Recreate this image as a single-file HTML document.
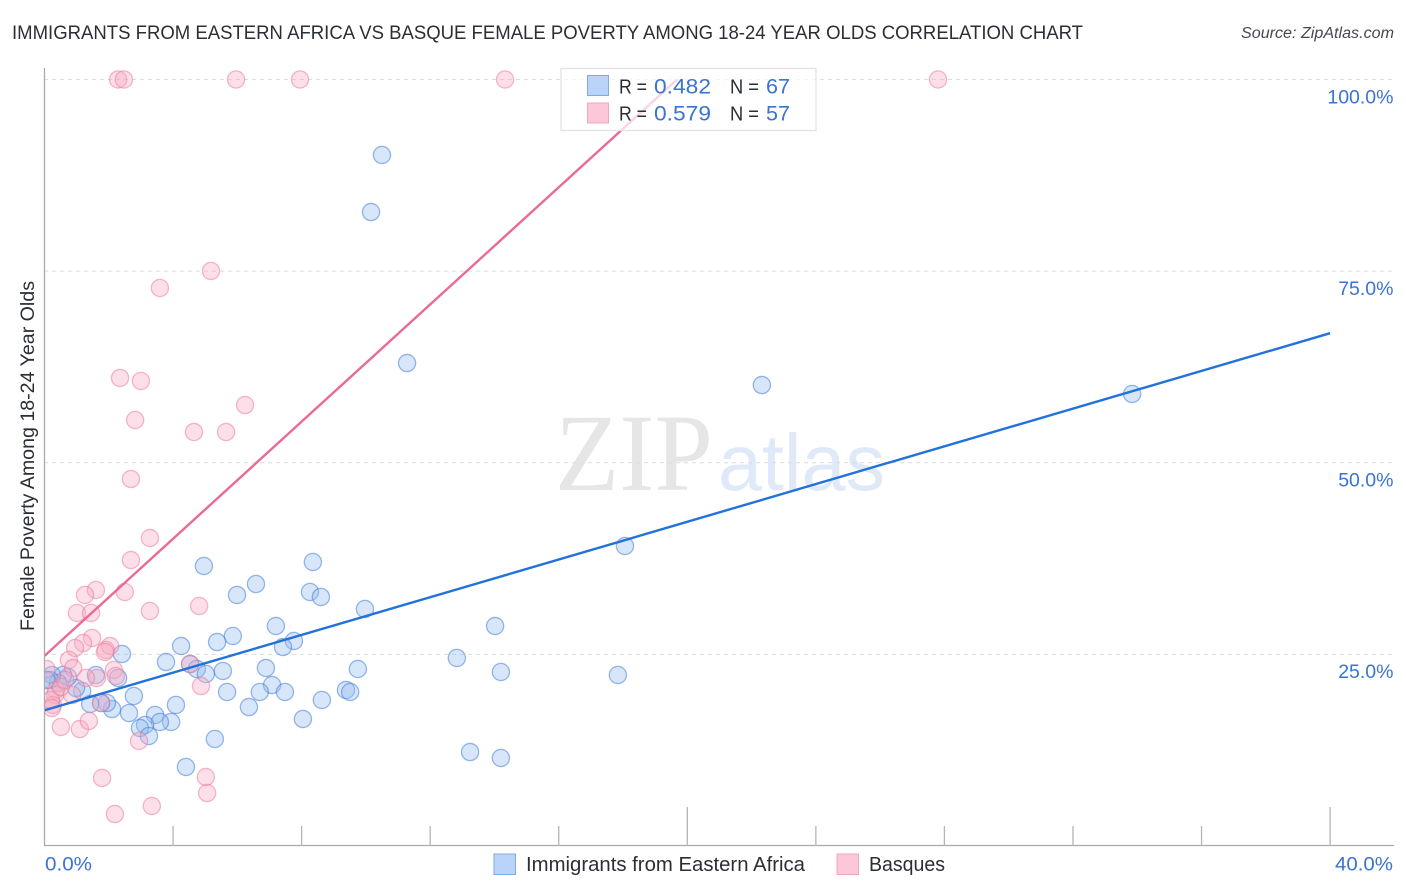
<!DOCTYPE html>
<html lang="en">
<head>
<meta charset="utf-8">
<title>Female Poverty Correlation Chart</title>
<style>
html,body{margin:0;padding:0;background:#fff;}
body{width:1406px;height:892px;overflow:hidden;}
svg{display:block;}
text{font-family:"Liberation Sans",sans-serif;}
</style>
</head>
<body>
<svg id="chart" xmlns="http://www.w3.org/2000/svg" width="1406" height="892" viewBox="0 0 1406 892">
  <defs>
    <clipPath id="plot-clip"><rect x="45" y="60" width="1349" height="786"/></clipPath>
  </defs>
  <rect x="0" y="0" width="1406" height="892" fill="#ffffff"/>
  <text x="12" y="39" font-size="19" fill="#2a2e35" textLength="1071" lengthAdjust="spacingAndGlyphs">IMMIGRANTS FROM EASTERN AFRICA VS BASQUE FEMALE POVERTY AMONG 18-24 YEAR OLDS CORRELATION CHART</text>
  <text x="1394" y="38" font-size="15.5" font-style="italic" fill="#444a52" text-anchor="end" textLength="153" lengthAdjust="spacingAndGlyphs">Source: ZipAtlas.com</text>
  <g>
    <text x="555" y="490" style="font-family:'Liberation Serif',serif" font-size="110" fill="#e6e6e6" textLength="158" lengthAdjust="spacingAndGlyphs">ZIP</text>
    <text x="718" y="490" font-size="80" fill="#dfe9f8" textLength="167" lengthAdjust="spacingAndGlyphs">atlas</text>
  </g>
  <g id="grid"></g>
  <g id="axes"></g>
  <g clip-path="url(#plot-clip)">
    <g id="blue-points"></g>
    <g id="pink-points"></g>
    <g id="trends"></g>
  </g>
  <g>
    <rect x="561" y="68.5" width="255" height="62" fill="#ffffff" fill-opacity="0.72" stroke="#e2e2e2" stroke-width="1.3"/>
    <rect x="587.5" y="75.5" width="21" height="20" fill="#b9d4f8" stroke="#7fabe4" stroke-width="1"/>
    <rect x="587.5" y="103" width="21" height="20" fill="#fcc7d9" stroke="#f3a6c0" stroke-width="1"/>
    <text x="619" y="93.5" font-size="20" fill="#2a2e35" textLength="28" lengthAdjust="spacingAndGlyphs">R =</text>
    <text x="654" y="93.5" font-size="21" fill="#3b73d1" textLength="57" lengthAdjust="spacingAndGlyphs">0.482</text>
    <text x="730" y="93.5" font-size="20" fill="#2a2e35" textLength="29" lengthAdjust="spacingAndGlyphs">N =</text>
    <text x="766" y="93.5" font-size="21" fill="#3b73d1" textLength="24" lengthAdjust="spacingAndGlyphs">67</text>
    <text x="619" y="120.5" font-size="20" fill="#2a2e35" textLength="28" lengthAdjust="spacingAndGlyphs">R =</text>
    <text x="654" y="120.5" font-size="21" fill="#3b73d1" textLength="57" lengthAdjust="spacingAndGlyphs">0.579</text>
    <text x="730" y="120.5" font-size="20" fill="#2a2e35" textLength="29" lengthAdjust="spacingAndGlyphs">N =</text>
    <text x="766" y="120.5" font-size="21" fill="#3b73d1" textLength="24" lengthAdjust="spacingAndGlyphs">57</text>
  </g>
  <text transform="translate(34,456) rotate(-90)" font-size="19" fill="#2a2e35" text-anchor="middle" textLength="350" lengthAdjust="spacingAndGlyphs">Female Poverty Among 18-24 Year Olds</text>
  <g>
    <rect x="494" y="854" width="21.5" height="20.5" fill="#b9d4f8" stroke="#7fabe4" stroke-width="1"/>
    <text x="526" y="871" font-size="20" fill="#2a2e35" textLength="279" lengthAdjust="spacingAndGlyphs">Immigrants from Eastern Africa</text>
    <rect x="837" y="854" width="21.5" height="20.5" fill="#fcc7d9" stroke="#f3a6c0" stroke-width="1"/>
    <text x="869" y="871" font-size="20" fill="#2a2e35" textLength="76" lengthAdjust="spacingAndGlyphs">Basques</text>
  </g>
</svg>
<script>
var xTickValues = [4, 8, 12, 16, 20, 24, 28, 32, 36, 40];
var xMajorTicks = [20, 40];
var xTickLabels = ["0.0%", "40.0%"];
var yTickValues = [25, 50, 75, 100];
var yTickLabels = ["25.0%", "50.0%", "75.0%", "100.0%"];

var blueX = [10.50,10.16,11.28,22.32,33.84,18.06,4.96,8.35,6.58,5.99,8.26,8.60,9.97,7.20,14.02,5.86,5.37,7.76,7.42,4.25,2.41,3.78,12.83,4.53,4.74,5.02,5.55,6.89,9.75,14.20,17.84,7.08,9.38,9.51,6.70,7.48,5.68,8.63,6.36,4.09,2.78,8.04,2.63,3.44,3.94,3.59,3.13,2.97,3.25,5.30,13.24,14.20,4.40,2.10,1.94,1.76,1.42,2.29,1.60,1.17,0.98,0.73,0.58,0.42,0.23,0.17,0.06];
var blueY = [90.15,82.71,63.01,60.14,58.97,39.14,36.53,37.05,34.18,32.75,33.14,32.49,30.92,28.70,28.70,27.40,26.61,26.75,25.96,26.09,25.05,24.00,24.53,23.74,23.09,22.44,22.83,23.22,23.09,22.70,22.31,21.00,20.35,20.09,20.09,20.09,20.09,19.05,18.13,18.40,19.57,16.57,17.35,17.09,16.18,16.18,15.79,15.39,14.35,13.96,12.26,11.48,10.31,17.87,18.66,18.66,18.53,21.92,22.31,20.22,20.61,22.05,22.31,21.27,22.31,21.66,21.66];
var pinkX = [2.29,2.47,5.96,7.95,14.33,27.80,5.18,3.59,2.35,3.00,2.82,4.65,5.65,6.24,2.69,3.28,2.69,1.60,1.26,2.50,1.01,1.45,3.28,4.81,1.48,1.20,0.95,0.76,2.04,1.91,1.88,2.16,2.22,4.53,4.87,1.63,1.29,0.89,0.86,0.51,1.10,1.38,1.76,2.94,1.79,5.02,5.06,3.34,2.19,0.06,0.35,0.33,0.26,0.20,0.51,0.64,0.23];
var pinkY = [100,100,100,100,100,100,75.02,72.80,61.06,60.67,55.58,54.01,54.01,57.53,47.88,40.18,37.31,33.40,32.75,33.14,30.40,30.40,30.66,31.31,27.14,26.48,25.83,24.27,26.09,25.57,25.31,22.96,22.18,23.74,20.87,21.92,21.92,23.22,19.70,15.53,15.26,16.31,18.66,13.70,8.87,9.00,6.91,5.22,4.17,23.09,20.35,19.70,18.40,19.05,20.74,21.66,18.00];
var blueTrendX = [0, 40];
var blueTrendY = [17.7, 66.9];
var pinkTrendX = [0, 19.68];
var pinkTrendY = [24.8, 100];

var SVGNS = 'http://www.w3.org/2000/svg';
function sx(v){ return 44.5 + v * 32.14; }
function sy(v){ return 846 - v * 7.665; }
function make(tag, parentId, attrs){
  var el = document.createElementNS(SVGNS, tag);
  for (var k in attrs) { el.setAttribute(k, attrs[k]); }
  document.getElementById(parentId).appendChild(el);
  return el;
}

yTickValues.forEach(function(v, i){
  var line = make('line', 'grid', {x1: 44, x2: 1394, y1: sy(v), y2: sy(v), stroke: '#dcdcdc', 'stroke-width': 1, 'stroke-dasharray': '4 4'});
  
  
  var label = make('text', 'axes', {x: 1393.5, y: sy(v) + 23.8, 'font-size': 19.5, fill: '#3b73d1', 'text-anchor': 'end'});
  
  
  label.textContent = yTickLabels[i];
});

var yAxis = make('line', 'axes', {x1: 44.5, x2: 44.5, y1: 68, y2: 846, stroke: '#aaaaaa', 'stroke-width': 1.3});


var xAxis = make('line', 'axes', {x1: 44, x2: 1394, y1: 845.5, y2: 845.5, stroke: '#aaaaaa', 'stroke-width': 1.3});



xTickValues.forEach(function(v){
  var top = xMajorTicks.indexOf(v) >= 0 ? 807 : 826;
  var tick = make('line', 'axes', {x1: sx(v), x2: sx(v), y1: top, y2: 846, stroke: '#b4b4b4', 'stroke-width': 1.3});
  
  
});

var x0Label = make('text', 'axes', {x: 45, y: 870.5, 'font-size': 19.5, fill: '#3b73d1', textLength: 47, lengthAdjust: 'spacingAndGlyphs'});


x0Label.textContent = xTickLabels[0];
var x1Label = make('text', 'axes', {x: 1335, y: 870.5, 'font-size': 19.5, fill: '#3b73d1', textLength: 58, lengthAdjust: 'spacingAndGlyphs'});


x1Label.textContent = xTickLabels[1];

blueX.forEach(function(v, i){
  var c = make('circle', 'blue-points', {cx: sx(v), cy: sy(blueY[i]), r: 8.6, fill: 'rgba(150,188,238,0.38)', stroke: 'rgba(58,120,215,0.52)', 'stroke-width': 1.3});
  
  
});
pinkX.forEach(function(v, i){
  var c = make('circle', 'pink-points', {cx: sx(v), cy: sy(pinkY[i]), r: 8.6, fill: 'rgba(248,170,195,0.38)', stroke: 'rgba(234,120,155,0.52)', 'stroke-width': 1.3});
  
  
});

var blueTrend = make('line', 'trends', {x1: sx(blueTrendX[0]), y1: sy(blueTrendY[0]), x2: sx(blueTrendX[1]), y2: sy(blueTrendY[1]), stroke: '#2272d9', 'stroke-width': 2.4});


var pinkTrend = make('line', 'trends', {x1: sx(pinkTrendX[0]), y1: sy(pinkTrendY[0]), x2: sx(pinkTrendX[1]), y2: sy(pinkTrendY[1]), stroke: '#ea6a96', 'stroke-width': 2.4});


</script>
</body>
</html>
